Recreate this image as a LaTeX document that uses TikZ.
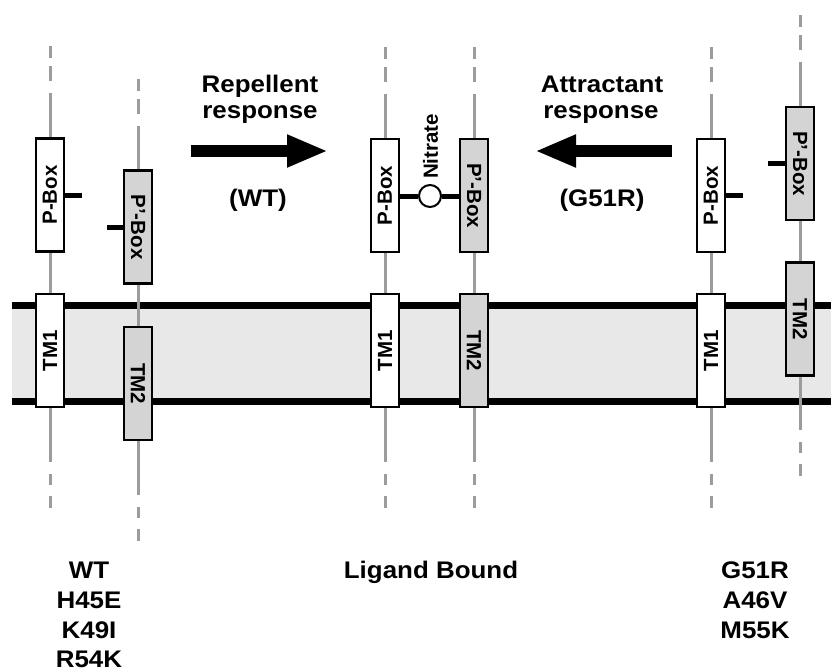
\documentclass[tikz,border=0pt]{standalone}
\usepackage{fontspec}
\setmainfont{Liberation Sans}
\newfontfamily\labfont{Liberation Sans}[FakeStretch=1.08]
\usetikzlibrary{arrows.meta,backgrounds}
\definecolor{strandgray}{HTML}{9C9C9C}
\definecolor{boxgray}{HTML}{D4D4D4}
\definecolor{memgray}{HTML}{E8E8E8}
\tikzset{
  strand/.style={draw=strandgray, line width=3pt},
  wbox/.style={draw=black, line width=2.5pt, fill=white, minimum width=28pt, minimum height=113pt, inner sep=0pt, font=\bfseries\fontsize{20.5}{24}\selectfont},
  gbox/.style={wbox, fill=boxgray},
  tickbar/.style={draw=black, line width=5pt},
  memline/.style={draw=black, line width=7pt},
  lab/.style={font=\labfont\bfseries\fontsize{24}{28}\selectfont, anchor=base, inner sep=0pt},
  bigarrow/.style={draw=black, line width=12pt, -{Triangle[length=41pt,width=30pt]}},
}
\newcommand\strandtop[3]{%
  \draw[strand] (#1,#2-91) -- (#1,#2-79);
  \draw[strand] (#1,#2-71) -- (#1,#2-56);
  \coordinate (#3) at (#1,#2-44);}
\newcommand\strandbot[3]{%
  \coordinate (#3) at (#1,#2+54);
  \draw[strand] (#1,#2+66) -- (#1,#2+77);
  \draw[strand] (#1,#2+88) -- (#1,#2+100);}
\begin{document}
\begin{tikzpicture}[x=1pt,y=-1pt]
\useasboundingbox (0,0) rectangle (831,672);

% ---- boxes: WT (left)
\node[wbox] (pbA) at (50,195) {\rotatebox{90}{P-Box}};
\node[gbox] (ppbA) at (138,227) {\rotatebox{-90}{P'-Box}};
\node[wbox] (tm1A) at (50,350.5) {\rotatebox{90}{TM1}};
\node[gbox] (tm2A) at (138,383.5) {\rotatebox{-90}{TM2}};
% ---- boxes: ligand bound (centre)
\node[wbox] (pbB) at (385,195.5) {\rotatebox{90}{P-Box}};
\node[gbox] (ppbB) at (474,195.5) {\rotatebox{-90}{P'-Box}};
\node[wbox] (tm1B) at (385,350.5) {\rotatebox{90}{TM1}};
\node[gbox] (tm2B) at (474,350.5) {\rotatebox{-90}{TM2}};
% ---- boxes: G51R (right)
\node[wbox] (pbC) at (711,195.5) {\rotatebox{90}{P-Box}};
\node[gbox] (ppbC) at (800,163.5) {\rotatebox{-90}{P'-Box}};
\node[wbox] (tm1C) at (711,350.5) {\rotatebox{90}{TM1}};
\node[gbox] (tm2C) at (800,319) {\rotatebox{-90}{TM2}};

% ---- nitrate
\node[circle, draw=black, line width=2pt, fill=white, minimum size=22pt, inner sep=0pt] (nit) at (430,196) {};
\node[font=\bfseries\fontsize{20.5}{24}\selectfont, rotate=90, inner sep=0pt] (nitlab) at (430.5,146.5) {Nitrate};
\draw[tickbar] (pbB.east |- nit.west) -- (nit.west);
\draw[tickbar] (nit.east) -- (ppbB.west |- nit.east);

% ---- ticks
\path (pbA.east) ++(17,0) coordinate (tA);
\draw[tickbar] (pbA.east) -- (tA);
\path (ppbA.west) ++(-16,0) coordinate (tpA);
\draw[tickbar] (ppbA.west) -- (tpA);
\path (pbC.east) ++(17,0) coordinate (tC);
\draw[tickbar] (pbC.east) -- (tC);
\path (ppbC.west) ++(-17,0) coordinate (tpC);
\draw[tickbar] (ppbC.west) -- (tpC);

\begin{scope}[on background layer]
  % membrane
  \coordinate (mtl) at (12,305.5);
  \coordinate (mtr) at (831,305.5);
  \coordinate (mbl) at (12,401.5);
  \coordinate (mbr) at (831,401.5);
  \fill[memgray] (mtl) rectangle (mbr);
  \draw[memline] (mtl) -- (mtr);
  \draw[memline] (mbl) -- (mbr);
  % strands
  \strandtop{50}{137}{sAt}
  \draw[strand] (sAt) -- (pbA.north);
  \draw[strand] (pbA.south) -- (tm1A.north);
  \strandbot{50}{408}{sAb}
  \draw[strand] (tm1A.south) -- (sAb);

  \strandtop{138}{170}{sBt}
  \draw[strand] (sBt) -- (ppbA.north);
  \draw[strand] (ppbA.south) -- (tm2A.north);
  \strandbot{138}{441}{sBb}
  \draw[strand] (tm2A.south) -- (sBb);

  \strandtop{385}{138}{sCt}
  \draw[strand] (sCt) -- (pbB.north);
  \draw[strand] (pbB.south) -- (tm1B.north);
  \strandbot{385}{408}{sCb}
  \draw[strand] (tm1B.south) -- (sCb);

  \strandtop{474}{138}{sDt}
  \draw[strand] (sDt) -- (ppbB.north);
  \draw[strand] (ppbB.south) -- (tm2B.north);
  \strandbot{474}{408}{sDb}
  \draw[strand] (tm2B.south) -- (sDb);

  \strandtop{711}{138}{sEt}
  \draw[strand] (sEt) -- (pbC.north);
  \draw[strand] (pbC.south) -- (tm1C.north);
  \strandbot{711}{408}{sEb}
  \draw[strand] (tm1C.south) -- (sEb);

  \strandtop{800}{106}{sFt}
  \draw[strand] (sFt) -- (ppbC.north);
  \draw[strand] (ppbC.south) -- (tm2C.north);
  \strandbot{800}{376}{sFb}
  \draw[strand] (tm2C.south) -- (sFb);
\end{scope}

% ---- arrows
\coordinate (repS) at (191,151);
\coordinate (repE) at (328,151);
\draw[bigarrow] (repS) -- (repE);
\coordinate (attS) at (672,151);
\coordinate (attE) at (535,151);
\draw[bigarrow] (attS) -- (attE);

% ---- labels
\node[lab] (rep1) at (260,92) {Repellent};
\node[lab] (rep2) at (260,118) {response};
\node[lab] (rep3) at (258,206) {(WT)};
\node[lab] (att1) at (602,92) {Attractant};
\node[lab] (att2) at (601,118) {response};
\node[lab] (att3) at (602,206) {(G51R)};

\node[lab] (wt1) at (89,578) {WT};
\node[lab] (wt2) at (89,608) {H45E};
\node[lab] (wt3) at (89,638) {K49I};
\node[lab] (wt4) at (89,667) {R54K};
\node[lab] (lig) at (431,578) {Ligand Bound};
\node[lab] (g1) at (755,578) {G51R};
\node[lab] (g2) at (755,608) {A46V};
\node[lab] (g3) at (755,638) {M55K};
\end{tikzpicture}
\end{document}
